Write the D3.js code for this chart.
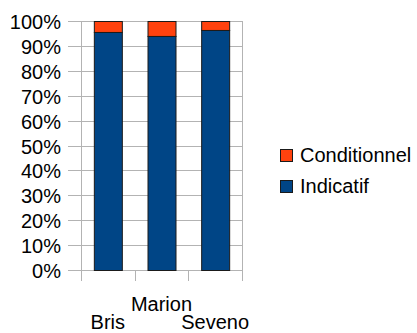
<!DOCTYPE html>
<html>
<head>
<meta charset="utf-8">
<script src="https://cdn.jsdelivr.net/npm/d3@7"></script>
<style>
  body { margin: 0; background: #fff; }
  svg text { font-family: "Liberation Sans", Arial, sans-serif; font-size: 20px; fill: #000; }
</style>
</head>
<body>
<div class="container"></div>
<script>
const WIDTH = 417, HEIGHT = 333;

// data
const categories = ['Bris', 'Marion', 'Seveno'];
const indicatif = [95.6, 94.0, 96.4];
const conditionnel = [4.4, 6.0, 3.6];
const seriesNames = ['Indicatif', 'Conditionnel'];
const seriesColors = ['#004586', '#ff420e'];
const yTicks = [0, 10, 20, 30, 40, 50, 60, 70, 80, 90, 100];

const plot = {left: 81, right: 242, top: 21, bottom: 270};

var svg = d3.select('.container').append('svg')
    .attr('width', WIDTH).attr('height', HEIGHT);

var x = d3.scaleBand().domain(categories).range([plot.left, plot.right]).paddingInner(0).paddingOuter(0);
var y = d3.scaleLinear().domain([0, 100]).range([plot.bottom, plot.top]);

// gridlines
svg.append('g').selectAll('line').data(yTicks).join('line')
    .attr('x1', plot.left - 13).attr('x2', plot.right)
    .attr('y1', d => Math.round(y(d)) + .5).attr('y2', d => Math.round(y(d)) + .5)
    .attr('stroke', '#b3b3b3');

// vertical axis + right edge
[plot.left, plot.right].forEach(function(px) {
  svg.append('line')
      .attr('x1', px + .5).attr('x2', px + .5)
      .attr('y1', plot.top).attr('y2', plot.bottom)
      .attr('stroke', '#b3b3b3');
});

// x ticks at band edges
var edges = categories.map(c => x(c)).concat([plot.right]);
svg.append('g').selectAll('line').data(edges).join('line')
    .attr('x1', d => Math.round(d) + .5).attr('x2', d => Math.round(d) + .5)
    .attr('y1', plot.bottom).attr('y2', plot.bottom + 11)
    .attr('stroke', '#b3b3b3');

// y labels
svg.append('g').selectAll('text').data(yTicks).join('text')
    .attr('x', 61).attr('y', d => y(d) + 8)
    .attr('text-anchor', 'end')
    .text(d => d + '%');

// stacked bars
var rows = categories.map((c, i) => ({cat: c, Indicatif: indicatif[i], Conditionnel: conditionnel[i]}));
var stack = d3.stack().keys(seriesNames)(rows);
var barW = 28;

svg.append('g').selectAll('g').data(stack).join('g')
    .attr('fill', (d, i) => seriesColors[i])
    .selectAll('rect').data(d => d).join('rect')
    .attr('x', d => x(d.data.cat) + x.bandwidth() / 2 - barW / 2 + .5)
    .attr('y', d => y(d[1]) + .5)
    .attr('width', barW)
    .attr('height', d => y(d[0]) - y(d[1]))
    .attr('stroke', '#1a1a1a')
    .attr('stroke-width', 1);

// x labels, staggered
svg.append('g').selectAll('text').data(categories).join('text')
    .attr('x', d => x(d) + x.bandwidth() / 2)
    .attr('y', (d, i) => i % 2 ? 311 : 329)
    .attr('text-anchor', 'middle')
    .text(d => d);

// legend
var legendItems = ['Conditionnel', 'Indicatif'];
var legend = svg.append('g').selectAll('g').data(legendItems).join('g')
    .attr('transform', (d, i) => 'translate(280,' + (149 + i * 31) + ')');
legend.append('rect')
    .attr('x', .5).attr('y', .5).attr('width', 12).attr('height', 12)
    .attr('fill', d => seriesColors[seriesNames.indexOf(d)])
    .attr('stroke', '#1a1a1a');
legend.append('text')
    .attr('x', 20).attr('y', 13)
    .text(d => d);
</script>
</body>
</html>
